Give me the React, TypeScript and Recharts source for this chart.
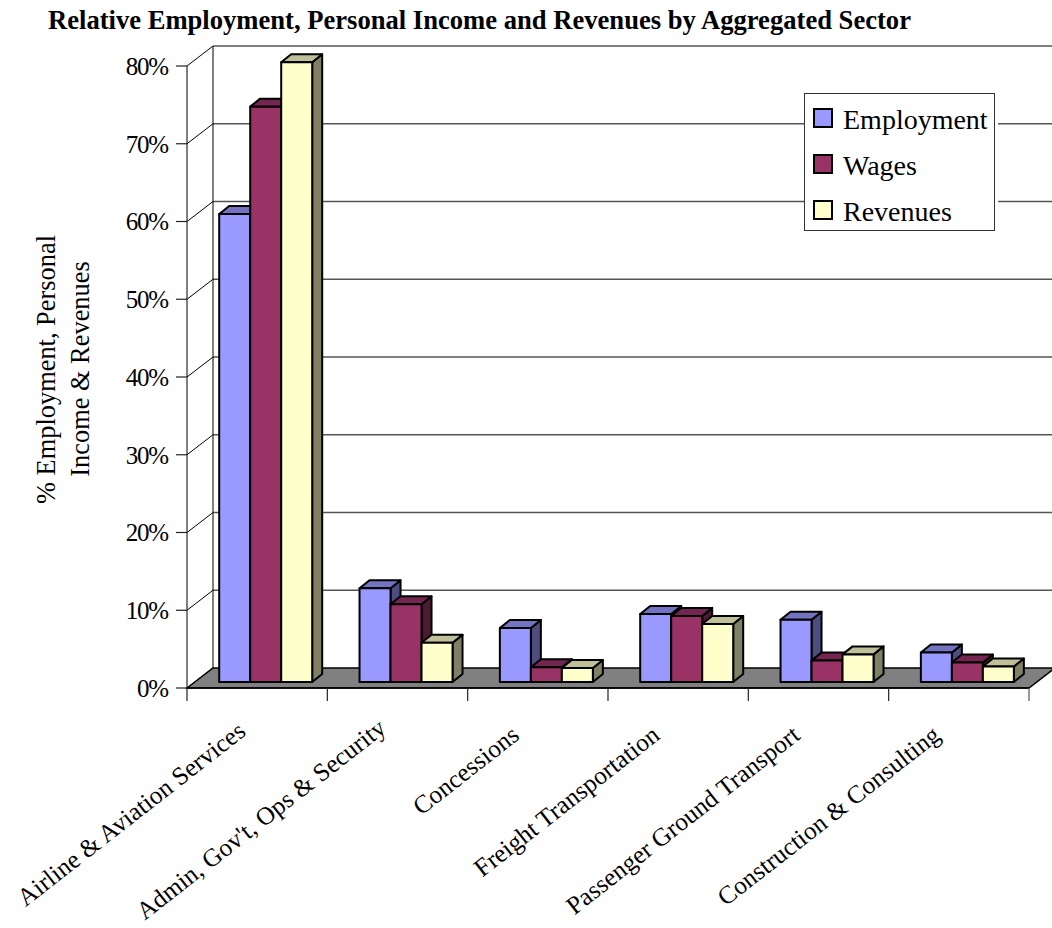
import { BarChart, Bar, XAxis, YAxis, CartesianGrid, Legend } from "recharts";

const sectors = [
  "Airline & Aviation Services",
  "Admin, Gov't, Ops & Security",
  "Concessions",
  "Freight Transportation",
  "Passenger Ground Transport",
  "Construction & Consulting",
];
const employment = [60.2, 12.05, 6.95, 8.75, 8, 3.8];
const wages = [74, 10, 1.9, 8.5, 2.75, 2.5];
const revenues = [79.7, 5.05, 1.8, 7.45, 3.55, 2.0];
const percentTicks = [0, 10, 20, 30, 40, 50, 60, 70, 80];

const rows = sectors.map((sector, i) => ({
  sector,
  employment: employment[i],
  wages: wages[i],
  revenues: revenues[i],
}));

const WIDTH = 1052;
const HEIGHT = 928;
const FONT = '"Liberation Serif", "Times New Roman", serif';
const PLOT = { left: 187, right: 1029, top: 66, bottom: 688 };
const STEP = (PLOT.right - PLOT.left) / sectors.length;
// depth of the floor and walls, and of each box standing on the floor
const WALL_DX = 26;
const WALL_DY = 20;
const BOX_DX = 10;
const BOX_DY = 8;
const BOX_SHIFT_X = 8.2;
const BOX_SHIFT_Y = 6;

const SHADES: Record<string, { top: string; side: string }> = {
  "#9999FF": { top: "#7373BF", side: "#4D4D80" },
  "#993366": { top: "#732650", side: "#4D1A33" },
  "#FFFFCC": { top: "#BFBF99", side: "#808066" },
};

function Box3D(props: any) {
  const { x, y, width, height, fill } = props;
  const l = x + BOX_SHIFT_X;
  const r = l + width;
  const t = y - BOX_SHIFT_Y;
  const b = t + height;
  const shade = SHADES[fill];
  const edge = { stroke: "#000", strokeWidth: 2, strokeLinejoin: "round" as const };
  return (
    <g>
      <polygon
        points={`${r},${t} ${r + BOX_DX},${t - BOX_DY} ${r + BOX_DX},${b - BOX_DY} ${r},${b}`}
        fill={shade.side}
        {...edge}
      />
      <polygon
        points={`${l},${t} ${l + BOX_DX},${t - BOX_DY} ${r + BOX_DX},${t - BOX_DY} ${r},${t}`}
        fill={shade.top}
        {...edge}
      />
      <rect x={l} y={t} width={width} height={height} fill={fill} {...edge} />
    </g>
  );
}

// each horizontal grid line runs up the side wall and then across the back wall;
// the zero line also lays down the floor
function WallLine(props: any) {
  const { x1, x2, y1, index } = props;
  const isFloor = Math.abs(y1 - PLOT.bottom) < 1;
  const isTop = Math.abs(y1 - PLOT.top) < 1;
  const backX = x1 + WALL_DX;
  const backY = y1 - WALL_DY;
  return (
    <g key={`wall-${index}`}>
      <line x1={x1} y1={y1} x2={backX} y2={backY} stroke="#000" strokeWidth={1} />
      {isFloor ? (
        <polygon
          points={`${x1},${y1} ${backX},${backY} ${x2 + WALL_DX},${backY} ${x2},${y1}`}
          fill="#808080"
          stroke="#000"
          strokeWidth={1.5}
        />
      ) : (
        <line
          x1={backX}
          y1={backY}
          x2={x2 + WALL_DX}
          y2={backY}
          stroke={isTop ? "#000" : "#555"}
          strokeWidth={isTop ? 1 : 1.4}
        />
      )}
      {isTop && (
        <line x1={backX} y1={backY} x2={backX} y2={PLOT.bottom - WALL_DY} stroke="#000" strokeWidth={1} />
      )}
    </g>
  );
}

// label offsets from the tick, the longest label is lifted to stay on the page
const labelShiftX = (index: number) => (index < 2 ? 10 : 17);
const labelShiftY = (index: number) => (index === 1 ? 43 : index === 0 ? 46 : 50);

function SectorTick(props: any) {
  const { x, index, payload } = props;
  const boundary = x - STEP / 2;
  const labelX = x - labelShiftX(index);
  const labelY = PLOT.bottom + labelShiftY(index);
  return (
    <g>
      <line x1={boundary} y1={PLOT.bottom} x2={boundary} y2={PLOT.bottom + 13} stroke="#222" strokeWidth={1.2} />
      {index === sectors.length - 1 && (
        <line
          x1={boundary + STEP}
          y1={PLOT.bottom}
          x2={boundary + STEP}
          y2={PLOT.bottom + 13}
          stroke="#555"
          strokeWidth={1.2}
        />
      )}
      <text
        x={labelX}
        y={labelY}
        textAnchor="end"
        fontFamily={FONT}
        fontSize={25.3}
        fill="#000"
        transform={`rotate(-38 ${labelX} ${labelY})`}
      >
        {payload.value}
      </text>
    </g>
  );
}

function LegendBox(props: any) {
  return (
    <div
      style={{
        boxSizing: "border-box",
        width: "100%",
        height: "100%",
        background: "#fff",
        border: "1px solid #333",
        boxShadow: "3px 0 0 #fff",
        paddingTop: 1,
      }}
    >
      {props.payload.map((item: any) => (
        <div
          key={item.value}
          style={{ display: "flex", alignItems: "center", height: 46, paddingLeft: 8, fontFamily: FONT, fontSize: 28, color: "#000" }}
        >
          <span
            style={{
              boxSizing: "border-box",
              width: 20,
              height: 20,
              marginRight: 10,
              background: item.color,
              border: "2px solid #000",
            }}
          />
          <span style={{ position: "relative", top: 2 }}>{item.value}</span>
        </div>
      ))}
    </div>
  );
}

export default function App() {
  return (
    <div style={{ position: "absolute", left: 0, top: 0, width: WIDTH, height: HEIGHT, background: "#fff" }}>
      <BarChart
        width={WIDTH}
        height={HEIGHT}
        data={rows}
        margin={{ top: PLOT.top, right: WIDTH - PLOT.right, bottom: 0, left: 0 }}
        barCategoryGap={24}
        barGap={0}
        barSize={31}
      >
        <CartesianGrid vertical={false} horizontal={WallLine} />
        <XAxis
          dataKey="sector"
          height={HEIGHT - PLOT.bottom}
          interval={0}
          tickLine={false}
          tick={SectorTick}
          axisLine={{ stroke: "#000", strokeWidth: 1.5 }}
        />
        <YAxis
          width={PLOT.left}
          domain={[0, 80]}
          ticks={percentTicks}
          interval={0}
          tickSize={11}
          tickMargin={8}
          tickFormatter={(v: number) => `${v}%`}
          tick={{ fontFamily: FONT, fontSize: 25, letterSpacing: -1.2, fill: "#000" }}
          tickLine={{ stroke: "#222", strokeWidth: 1.2 }}
          axisLine={{ stroke: "#000", strokeWidth: 1 }}
        />
        <Bar dataKey="employment" name="Employment" fill="#9999FF" shape={Box3D} isAnimationActive={false} />
        <Bar dataKey="wages" name="Wages" fill="#993366" shape={Box3D} isAnimationActive={false} />
        <Bar dataKey="revenues" name="Revenues" fill="#FFFFCC" shape={Box3D} isAnimationActive={false} />
        <Legend
          layout="vertical"
          align="center"
          verticalAlign="middle"
          itemSorter={null}
          content={LegendBox}
          wrapperStyle={{ left: 804, top: 93, width: 191, height: 138 }}
        />
        <text x={48} y={29} fontFamily={FONT} fontWeight="bold" fontSize={26.6} fill="#000">
          Relative Employment, Personal Income and Revenues by Aggregated Sector
        </text>
        <text
          transform="translate(55 369.5) rotate(-90)"
          textAnchor="middle"
          fontFamily={FONT}
          fontSize={26.4}
          fill="#000"
        >
          % Employment, Personal
        </text>
        <text
          transform="translate(89 369) rotate(-90)"
          textAnchor="middle"
          fontFamily={FONT}
          fontSize={26.4}
          fill="#000"
        >
          Income &amp; Revenues
        </text>
      </BarChart>
    </div>
  );
}
